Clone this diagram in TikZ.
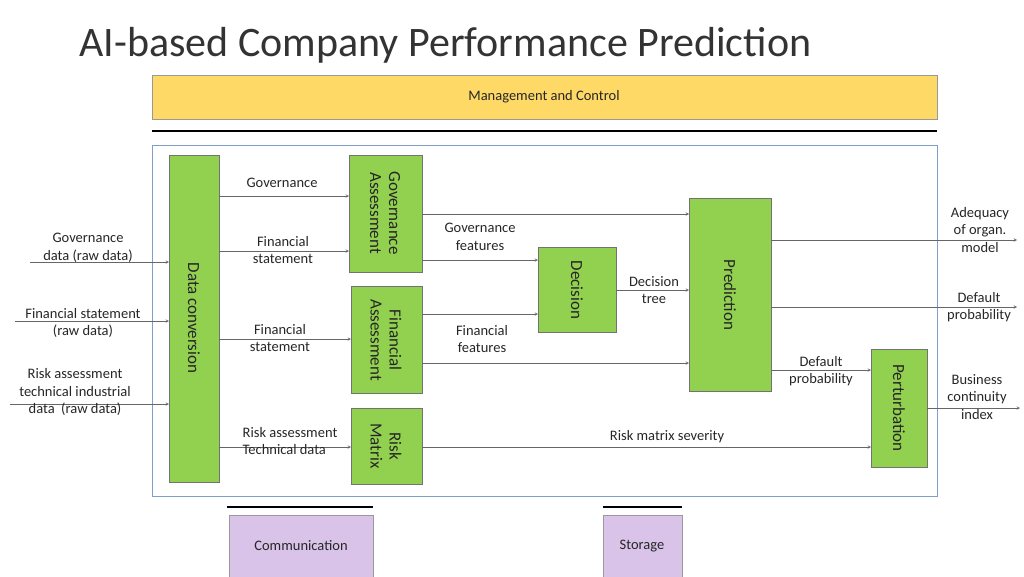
\documentclass[tikz,border=0pt]{standalone}
\usepackage{fontspec}
\setmainfont{Carlito}
\begin{document}
\begin{tikzpicture}[x=1pt,y=-1pt,
  box/.style={draw=black!55,fill=gbox,line width=0.6pt},
  lab/.style={font=\fontsize{14.5}{17.5}\selectfont,align=center,text=black!85},
  blab/.style={rotate=-90,align=center,font=\fontsize{17}{19}\selectfont,text=black!85},
  arr/.style={->,>=stealth,draw=black!60,line width=0.5pt}]
\definecolor{gbox}{HTML}{92D050}
\definecolor{ybox}{HTML}{FFD966}
\definecolor{pbox}{HTML}{D9C3E9}
\definecolor{bframe}{HTML}{7F9FC8}
\useasboundingbox (0,0) rectangle (1024,576);
\node[anchor=west,font=\fontsize{42}{48}\selectfont,text=black!80] (title) at (76,45) {AI-based Company Performance Prediction};
\draw[draw=black!40,fill=ybox] (152,75) rectangle (937,119);
\node[lab] (mc) at (544,97) {Management and Control};
\draw[line width=2pt] (152,131) -- (937,131);
\draw[draw=bframe,line width=1pt] (152,145) rectangle (937,496);
% boxes
\draw[box] (169,155) rectangle (219,482);
\node[blab] (dc) at (194,318) {Data conversion};
\draw[box] (349,155) rectangle (422,272);
\node[blab] (ga) at (385,213) {Governance\\Assessment};
\draw[box] (351,286) rectangle (422,393);
\node[blab] (fa) at (386,340) {Financial\\Assessment};
\draw[box] (351,408) rectangle (422,484);
\node[blab] (rm) at (386,446) {Risk\\Matrix};
\draw[box] (538,247) rectangle (616,332);
\node[blab] (dec) at (577,290) {Decision};
\draw[box] (689,198) rectangle (771,391);
\node[blab] (pred) at (730,295) {Prediction};
\draw[box] (871,349) rectangle (927,467);
\node[blab] (pert) at (899,408) {Perturbation};
% bottom
\draw[line width=2pt] (227,507) -- (373,507);
\draw[draw=black!40,fill=pbox] (229,515) rectangle (373,580);
\node[lab] (com) at (301,546) {Communication};
\draw[line width=2pt] (603,507) -- (682,507);
\draw[draw=black!40,fill=pbox] (603,515) rectangle (682,580);
\node[lab] (sto) at (642,546) {Storage};
% inputs
\coordinate (i1) at (30,262); \coordinate (i1e) at (169,262);
\draw[arr] (i1) -- (i1e);
\node[lab] at (88,248) {Governance\\data (raw data)};
\coordinate (i2) at (15,321); \coordinate (i2e) at (169,321);
\draw[arr] (i2) -- (i2e);
\node[lab] at (83,323) {Financial statement\\(raw data)};
\coordinate (i3) at (10,404); \coordinate (i3e) at (169,404);
\draw[arr] (i3) -- (i3e);
\node[lab] at (75,392) {Risk assessment\\technical industrial\\data\ \ (raw data)};
% internal
\draw[arr] (219,196) -- (349,196); \node[lab] at (282,183) {Governance};
\draw[arr] (219,251) -- (349,251); \node[lab] at (283,250) {Financial\\statement};
\draw[arr] (219,339) -- (351,339); \node[lab] at (280,338) {Financial\\statement};
\draw[arr] (219,447) -- (351,447); \node[lab,align=left] at (290,441) {Risk assessment\\Technical data};
\draw[arr] (422,214) -- (689,214);
\draw[arr] (422,260) -- (538,260); \node[lab] at (480,237) {Governance\\features};
\draw[arr] (422,314) -- (538,314);
\draw[arr] (422,363) -- (689,363); \node[lab] at (482,339) {Financial\\features};
\draw[arr] (616,290) -- (689,290); \node[lab] at (654,290) {Decision\\tree};
\draw[arr] (771,240) -- (1017,240); \node[lab] at (980,230) {Adequacy\\of organ.\\model};
\draw[arr] (771,307) -- (1017,307); \node[lab] at (979,307) {Default\\probability};
\draw[arr] (771,370) -- (871,370); \node[lab] at (821,371) {Default\\probability};
\draw[arr] (422,447) -- (871,447); \node[lab] at (667,437) {Risk matrix severity};
\draw[arr] (927,408) -- (1020,408); \node[lab] at (977,397) {Business\\continuity\\index};
\end{tikzpicture}
\end{document}
